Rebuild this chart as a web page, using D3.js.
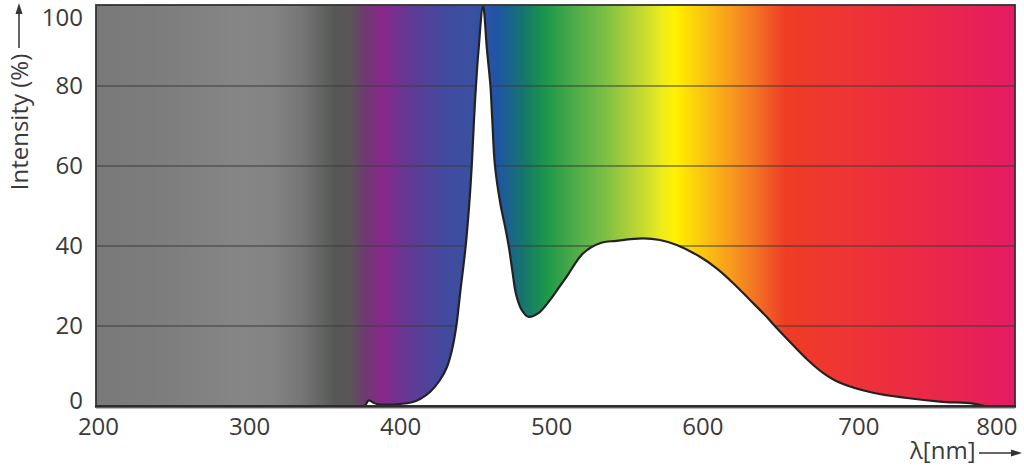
<!DOCTYPE html>
<html><head><meta charset="utf-8">
<script src="https://cdn.jsdelivr.net/npm/d3@7"></script>
<style>
html,body{margin:0;padding:0;background:#fff;}
svg{display:block;}
text{font-family:"Open Sans",sans-serif;fill:#3a3a3a;}
</style></head>
<body>
<svg id="chart" width="1024" height="469"></svg>
<script>
// ---- data ----
const wavelengths = [376.8,379.4,382.0,384.7,400.0,408.5,413.2,419.8,426.4,431.0,434.3,437.2,439.8,443.4,445.8,447.4,448.9,450.2,451.9,454.9,457.5,459.8,461.0,462.8,466.4,469.4,472.1,474.4,476.7,480.5,484.8,491.5,499.2,505.8,510.5,521.2,532.3,543.3,561.0,572.0,583.1,598.5,609.5,620.5,631.6,642.6,646.8,658.1,669.3,679.9,691.2,713.0,735.5,757.3,779.2,787.1];
const intensity   = [0,1.4,0.9,0.5,0.5,1.0,1.75,3.5,6.5,9.75,14,20,28.5,40,50.7,60,71.5,80,89,100,89,80,71.5,60,50.5,45,39.5,33.5,28,24,22.3,23.2,26.5,30,32.5,38.2,40.7,41.3,41.9,41.5,40.25,37.3,34.4,30.7,26.5,22.3,20.5,16,11.7,8.3,5.8,3.3,2.0,1.1,0.6,0];
const xTicks = [200,300,400,500,600,700,800];
const yTicks = [0,20,40,60,80,100];
const gridValues = [20,40,60,80];
const spectrumNm    = [198.7,234.4,294.0,313.9,333.7,356.9,366.8,376.8,388.0,407.9,429.7,447.6,464.8,480.7,497.9,509.1,535.6,555.5,572.0,581.9,595.2,621.7,638.2,654.8,701.1,745.5,807.0];
const spectrumColor = ["#797979","#7c7c7c","#858685","#838483","#767776","#565856","#5b5558","#6f3a70","#88288a","#5e3b96","#414a9e","#3a50a0","#1e55a5","#16746f","#1d9a48","#3fa54a","#7cbf45","#b8d435","#e8ea20","#fff100","#fcd20a","#f7951f","#f26b24","#ee3d24","#ee3337","#ea2a45","#e51b64"];

(function(){
const data = wavelengths.map((w,i)=>({w, v: intensity[i]}));

const svg = d3.select("#chart");
const pL = 96, pR = 1015, pT = 6, pB = 406;
const x = d3.scaleLinear().domain([198.7, 807]).range([pL, pR]);
const y = d3.scaleLinear().domain([0, 100]).range([pB, pT]);

const defs = svg.append("defs");
const grad = defs.append("linearGradient").attr("id","spec")
  .attr("gradientUnits","userSpaceOnUse")
  .attr("x1", pL).attr("x2", pR).attr("y1",0).attr("y2",0);
spectrumNm.forEach((n,i)=>{
  grad.append("stop").attr("offset", (x(n)-pL)/(pR-pL)).attr("stop-color", spectrumColor[i]);
});
defs.append("clipPath").attr("id","plotclip").append("rect")
  .attr("x",pL).attr("y",pT-1).attr("width",pR-pL).attr("height",pB-pT+1);

// background
svg.append("rect").attr("x",pL).attr("y",pT-1).attr("width",pR-pL).attr("height",pB-pT+1)
  .attr("fill","url(#spec)");

// grid
svg.append("g").selectAll("line").data(gridValues).join("line")
  .attr("x1",pL).attr("x2",pR).attr("y1",d=>y(d)).attr("y2",d=>y(d))
  .attr("stroke","#3c3c3c").attr("stroke-width",1.2);

// area + curve
const g = svg.append("g").attr("clip-path","url(#plotclip)");
const cv = d3.curveCatmullRom.alpha(0.5);
const area = d3.area().x(d=>x(d.w)).y0(y(0)).y1(d=>y(d.v)).curve(cv);
const line = d3.line().x(d=>x(d.w)).y(d=>y(d.v)).curve(cv);
g.append("path").datum(data).attr("d",area).attr("fill","#fff");
g.append("path").datum(data).attr("d",line).attr("fill","none")
  .attr("stroke","#222").attr("stroke-width",2.2).attr("stroke-linejoin","round");

// frame
svg.append("rect").attr("x",pL).attr("y",pT-1).attr("width",pR-pL).attr("height",pB-pT+1)
  .attr("fill","none").attr("stroke","#333").attr("stroke-width",1.8);
svg.append("line").attr("x1",pL-1).attr("x2",pR+1).attr("y1",pB+0.5).attr("y2",pB+0.5)
  .attr("stroke","#2a2a2a").attr("stroke-width",2.6);
svg.append("line").attr("x1",pL).attr("x2",pR).attr("y1",pB+2.5).attr("y2",pB+2.5)
  .attr("stroke","#bbb").attr("stroke-width",1);

// axes
const yAxis = svg.append("g").attr("transform",`translate(${pL},0)`)
  .call(d3.axisLeft(y).tickValues(yTicks).tickSize(0).tickPadding(13));
yAxis.select(".domain").remove();
yAxis.selectAll("text").attr("font-size",24).attr("font-family","Open Sans").attr("fill","#3a3a3a")
  .attr("dy", d => d === 100 ? "0.8em" : (d === 0 ? "0.12em" : "0.32em"));

const xAxis = svg.append("g").attr("transform",`translate(0,${pB})`)
  .call(d3.axisBottom(x).tickValues(xTicks).tickSize(0).tickPadding(12));
xAxis.select(".domain").remove();
xAxis.selectAll("text").attr("font-size",24).attr("font-family","Open Sans").attr("fill","#3a3a3a")
  .attr("dx", d => d === 800 ? -8 : (d === 700 ? 5 : 0));

// axis titles
svg.append("text").attr("transform","translate(28,122) rotate(-90)")
  .attr("text-anchor","middle").attr("font-size",24).text("Intensity (%)");
svg.append("line").attr("x1",19).attr("x2",19).attr("y1",48).attr("y2",12)
  .attr("stroke","#333").attr("stroke-width",1.5);
svg.append("path").attr("d","M19,3 L15.5,14 L22.5,14 Z").attr("fill","#333");

svg.append("text").attr("x",910).attr("y",459).attr("font-size",24).text("λ[nm]");
svg.append("line").attr("x1",979).attr("x2",1012).attr("y1",453).attr("y2",453)
  .attr("stroke","#333").attr("stroke-width",1.5);
svg.append("path").attr("d","M1022,453 L1011,449.5 L1011,456.5 Z").attr("fill","#333");
})();
</script>
</body></html>
